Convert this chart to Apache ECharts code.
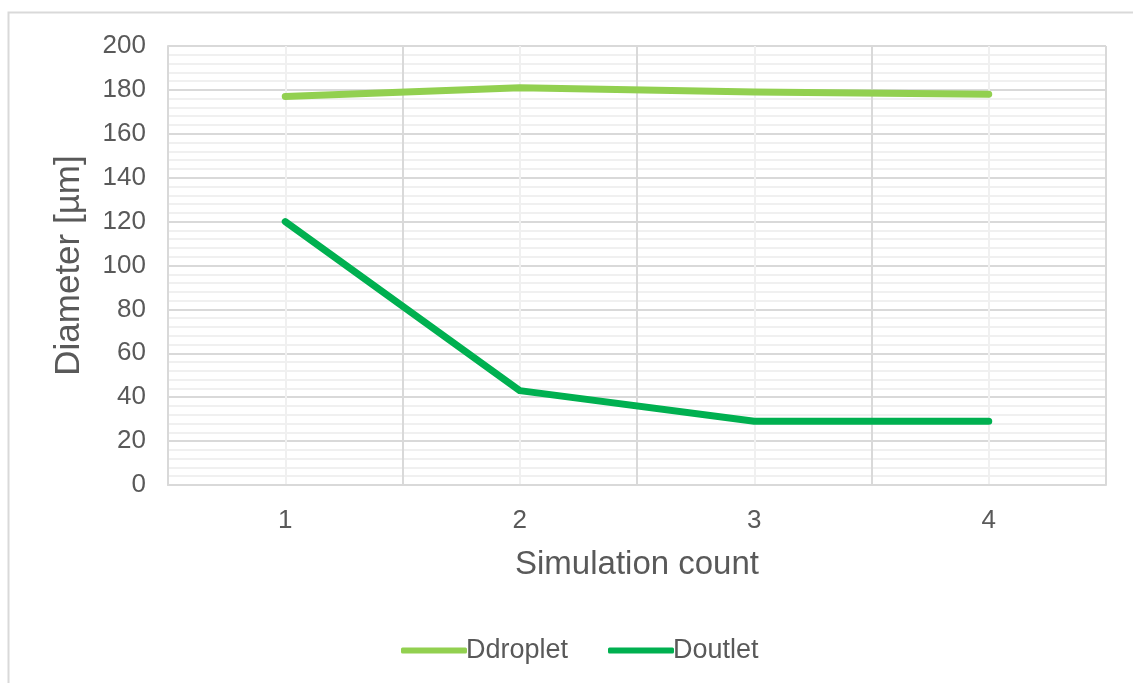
<!DOCTYPE html>
<html>
<head>
<meta charset="utf-8">
<script src="https://cdn.jsdelivr.net/npm/echarts@6/dist/echarts.min.js"></script>
<style>
  html, body { margin: 0; padding: 0; background: #fff; }
  #chart { width: 1133px; height: 683px; }
</style>
</head>
<body>
<div id="chart"></div>
<script>
// Simulation runs and measured diameters (µm)
const categories = ['1', '2', '3', '4'];
const ddroplet = [177, 181, 179, 178];
const doutlet = [120, 43, 29, 29];
const seriesNames = ['Ddroplet', 'Doutlet'];
const seriesColors = ['#92d050', '#00b050'];

const textColor = '#595959';
const font = '"Liberation Sans", Arial, sans-serif';

// one legend block per series so each entry sits at its own spot
function legendFor(name, left) {
  return {
    left: left, top: 632,
    itemWidth: 66, itemHeight: 6, itemGap: 0,
    icon: 'roundRect',
    textStyle: { color: textColor, fontSize: 27, fontFamily: font, padding: [0, 0, 0, -6] },
    data: [name]
  };
}

const chart = echarts.init(document.getElementById('chart'));
chart.setOption({
  backgroundColor: '#fff',
  animation: false,
  graphic: [{
    type: 'rect',
    shape: { x: 8.5, y: 12.5, width: 1200, height: 800 },
    style: { fill: 'none', stroke: '#d9d9d9', lineWidth: 2 },
    silent: true, z: -10
  }],
  grid: { left: 168, right: 27, top: 46, bottom: 198, containLabel: false },
  legend: [legendFor(seriesNames[0], 396), legendFor(seriesNames[1], 603)],
  xAxis: [{
    type: 'category',
    data: categories,
    boundaryGap: true,
    name: 'Simulation count',
    nameLocation: 'middle',
    nameGap: 63,
    nameTextStyle: { color: textColor, fontSize: 33, fontFamily: font },
    axisLine: { show: true, lineStyle: { color: '#d9d9d9', width: 2 } },
    axisTick: { show: false },
    axisLabel: { color: textColor, fontSize: 26, fontFamily: font, margin: 23 },
    splitLine: { show: true, lineStyle: { color: '#d9d9d9', width: 2 } },
    z: 3
  }, {
    // half-category grid used for the light vertical lines
    type: 'category',
    data: ['', '', '', '', '', '', '', ''],
    boundaryGap: true,
    position: 'bottom',
    show: true,
    axisLine: { show: false },
    axisTick: { show: false },
    axisLabel: { show: false },
    splitLine: { show: true, lineStyle: { color: '#f0f0f0', width: 2 } },
    z: 1
  }],
  yAxis: {
    type: 'value',
    min: 0, max: 200, interval: 20,
    name: 'Diameter [µm]',
    nameLocation: 'middle',
    nameGap: 81,
    nameTextStyle: { color: textColor, fontSize: 35, fontFamily: font },
    axisLine: { show: true, lineStyle: { color: '#d9d9d9', width: 2 } },
    axisTick: { show: false },
    axisLabel: { color: textColor, fontSize: 26, fontFamily: font, margin: 22 },
    splitLine: { show: true, lineStyle: { color: '#d9d9d9', width: 2 } },
    minorTick: { show: false, splitNumber: 5 },
    minorSplitLine: { show: true, lineStyle: { color: '#f0f0f0', width: 2 } }
  },
  series: [ddroplet, doutlet].map((values, i) => ({
    name: seriesNames[i],
    type: 'line',
    data: values,
    symbol: 'none',
    lineStyle: { color: seriesColors[i], width: 7, cap: 'round', join: 'round' },
    itemStyle: { color: seriesColors[i] },
    z: 5
  }))
});
</script>
</body>
</html>
